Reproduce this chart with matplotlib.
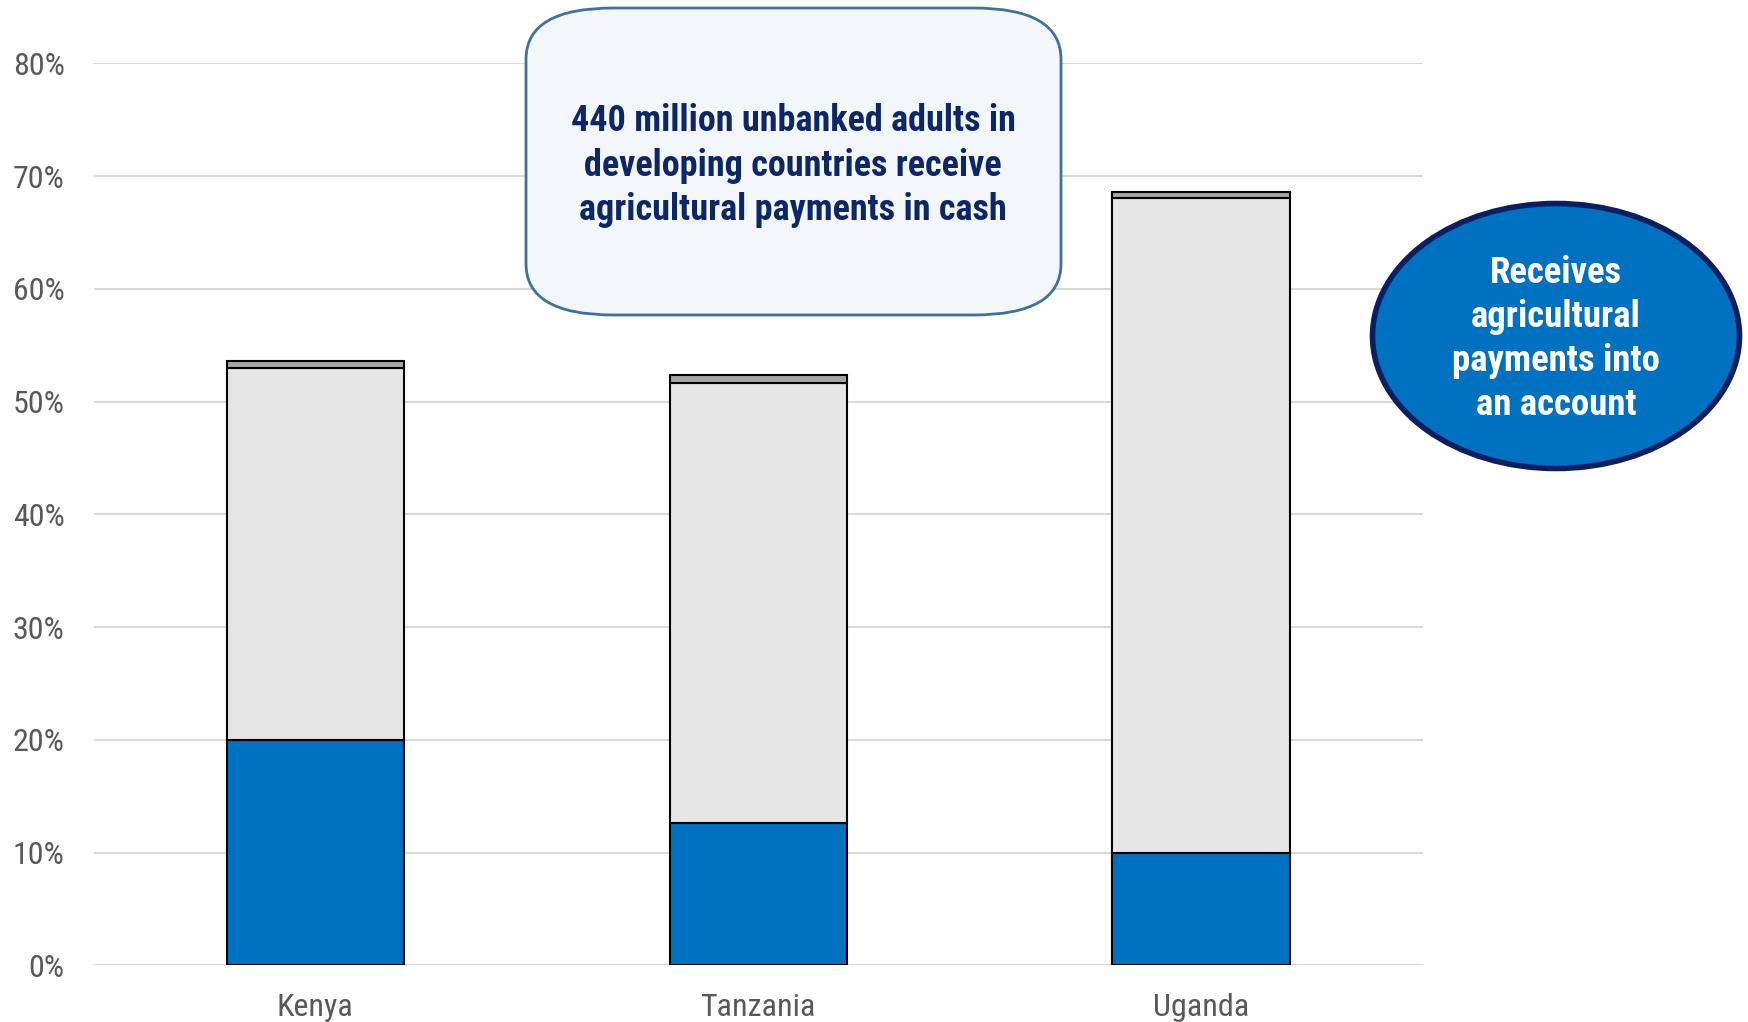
import matplotlib.pyplot as plt
from matplotlib.patches import FancyBboxPatch, Ellipse
from matplotlib.ticker import PercentFormatter
from matplotlib import font_manager

# pick a narrow sans (the original looks like Arial Narrow)
names = {f.name for f in font_manager.fontManager.ttflist}
narrow = 'Liberation Sans'
for cand in ['Liberation Sans Narrow', 'Roboto Condensed', 'Archivo Narrow', 'PT Sans Narrow', 'Liberation Sans']:
    if cand in names:
        narrow = cand
        break
plt.rcParams['font.family'] = [narrow, 'DejaVu Sans']

countries = ['Kenya', 'Tanzania', 'Uganda']
into_account = [20.0, 12.6, 10.0]
in_cash = [33.0, 39.05, 58.1]
other = [0.65, 0.7, 0.5]

blue = '#0070C0'
light = '#E5E5E5'
dark = '#A6A6A6'
grey_text = '#595959'
navy = '#0D2766'

fig = plt.figure(figsize=(17.48, 10.22), dpi=100)
ax = fig.add_axes([0.0536, 0.0554, 0.7602, 0.8825])

x = range(len(countries))
w = 0.4
ax.bar(x, into_account, w, color=blue, edgecolor='black', linewidth=1.5, zorder=3)
ax.bar(x, in_cash, w, bottom=into_account, color=light, edgecolor='black', linewidth=1.5, zorder=3)
bottom3 = [a + b for a, b in zip(into_account, in_cash)]
ax.bar(x, other, w, bottom=bottom3, color=dark, edgecolor='black', linewidth=1.5, zorder=3)

ax.set_xlim(-0.5, 2.5)
ax.set_ylim(0, 80)
ax.set_yticks(range(0, 81, 10))
ax.yaxis.set_major_formatter(PercentFormatter(decimals=0))
ax.set_xticks(list(x))
ax.set_xticklabels(countries)
ax.grid(axis='y', color='#D9D9D9', linewidth=1.5, zorder=0)
for s in ax.spines.values():
    s.set_visible(False)
ax.tick_params(axis='both', length=0, labelsize=23, colors=grey_text)
ax.tick_params(axis='y', pad=21)
ax.tick_params(axis='x', pad=20)

# callout box
box = FancyBboxPatch((526 / 1748, 1 - 315 / 1022), (1061 - 526) / 1748, (315 - 8) / 1022,
                     boxstyle='round,pad=0,rounding_size=0.05', transform=fig.transFigure,
                     facecolor='#F3F7FC', edgecolor='#41709E', linewidth=2, zorder=5)
fig.patches.append(box)
fig.text(793 / 1748, 1 - 165.5 / 1022,
         '440 million unbanked adults in\ndeveloping countries receive\nagricultural payments in cash',
         ha='center', va='center', fontsize=26, fontweight='bold', color=navy,
         linespacing=1.31, zorder=6)

# ellipse label
ell = Ellipse((1556 / 1748, 1 - 336 / 1022), (1740 - 1373) / 1748, (468 - 203) / 1022,
              transform=fig.transFigure, facecolor=blue, edgecolor='#0B1F60', linewidth=4, zorder=5)
fig.patches.append(ell)
fig.text(1556 / 1748, 1 - 339 / 1022,
         'Receives\nagricultural\npayments into\nan account',
         ha='center', va='center', fontsize=26.5, fontweight='bold', color='white',
         linespacing=1.28, zorder=6)

fig.savefig('out.png', dpi=100)
